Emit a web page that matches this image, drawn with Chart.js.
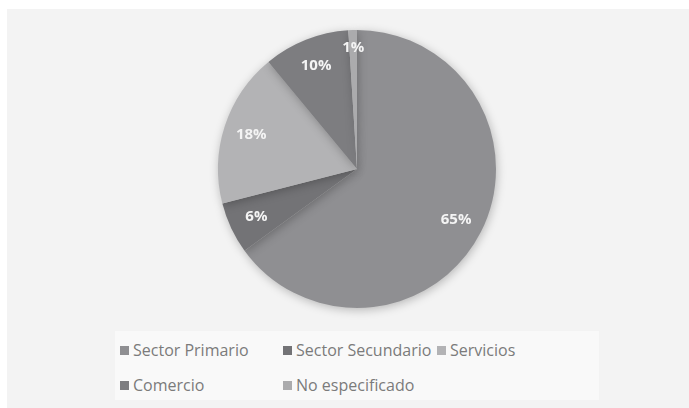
<!DOCTYPE html>
<html lang="es">
<head>
    <meta charset="UTF-8">
    <title>Distribución por sector</title>
    <script src="https://cdn.jsdelivr.net/npm/chart.js"></script>
    <style>
        body { margin: 0; background: #ffffff; }
        .frame {
            position: absolute; left: 7px; top: 9px; width: 682px; height: 399px;
            background: #f3f3f3;
        }
        .card { position: absolute; left: 0; top: 0; width: 689px; height: 408px; }
        #legend {
            position: absolute; left: 115px; top: 331px; width: 484px; height: 69px;
            background: #f9f9f9;
            font-family: "Open Sans", sans-serif; font-size: 16px; color: #7b7b7b;
        }
        .item { position: absolute; white-space: nowrap; line-height: 20px; }
        .item span.box {
            display: inline-block; width: 9px; height: 9px; margin-right: 4px; vertical-align: 1px;
        }
    </style>
</head>
<body>
    <div class="frame"></div>
    <div class="card">
        <canvas id="myChart" width="689" height="408"></canvas>
    </div>
    <div id="legend"></div>

    <script>
        const sectors = ['Sector Primario', 'Sector Secundario', 'Servicios', 'Comercio', 'No especificado'];
        const shares = [65, 6, 18, 10, 1];
        const sliceColors = ['#8f8f92', '#737376', '#b3b3b5', '#7d7d80', '#ababad'];

        // legend grid positions (Excel style, 3 columns)
        const legendCols = [5, 168, 322];
        const legendRows = [9, 44];

        const legend = document.getElementById('legend');
        sectors.forEach((name, i) => {
            let div = document.createElement('div');
            div.className = 'item';
            div.style.left = legendCols[i % 3] + 'px';
            div.style.top = legendRows[Math.floor(i / 3)] + 'px';
            div.innerHTML = '<span class="box" style="background:' + sliceColors[i] + '"></span>' + name;
            legend.appendChild(div);
        });

        // soft shadow under the pie
        const pieShadow = {
            id: 'pieShadow',
            beforeDatasetsDraw(chart) {
                chart.ctx.save();
                chart.ctx.shadowColor = 'rgba(0,0,0,0.25)';
                chart.ctx.shadowBlur = 10;
                chart.ctx.shadowOffsetX = 1;
                chart.ctx.shadowOffsetY = 2;
            },
            afterDatasetsDraw(chart) {
                chart.ctx.restore();
            }
        };

        // percentage labels inside slices
        const sliceLabels = {
            id: 'sliceLabels',
            afterDatasetsDraw(chart) {
                const ctx = chart.ctx;
                const meta = chart.getDatasetMeta(0);
                ctx.save();
                ctx.font = 'bold 15px "Open Sans", sans-serif';
                ctx.fillStyle = '#f4f4f4';
                ctx.textAlign = 'center';
                ctx.textBaseline = 'middle';
                meta.data.forEach((arc, i) => {
                    const p = arc.getProps(['x', 'y', 'startAngle', 'endAngle', 'outerRadius'], true);
                    const mid = (p.startAngle + p.endAngle) / 2;
                    const r = p.outerRadius * (shares[i] < 3 ? 0.87 : 0.8);
                    ctx.fillText(shares[i] + '%', p.x + Math.cos(mid) * r, p.y + Math.sin(mid) * r);
                });
                ctx.restore();
            }
        };

        const config = {
            type: 'pie',
            data: {
                labels: sectors,
                datasets: [{
                    data: shares,
                    backgroundColor: sliceColors,
                    borderWidth: 0
                }]
            },
            options: {
                responsive: false,
                animation: false,
                layout: { padding: { top: 30, bottom: 100, left: 25, right: 0 } },
                plugins: {
                    legend: { display: false },
                    tooltip: { enabled: false }
                }
            },
            plugins: [pieShadow, sliceLabels]
        };

        const ctx = document.getElementById('myChart').getContext('2d');
        const myChart = new Chart(ctx, config);
    </script>
</body>
</html>
